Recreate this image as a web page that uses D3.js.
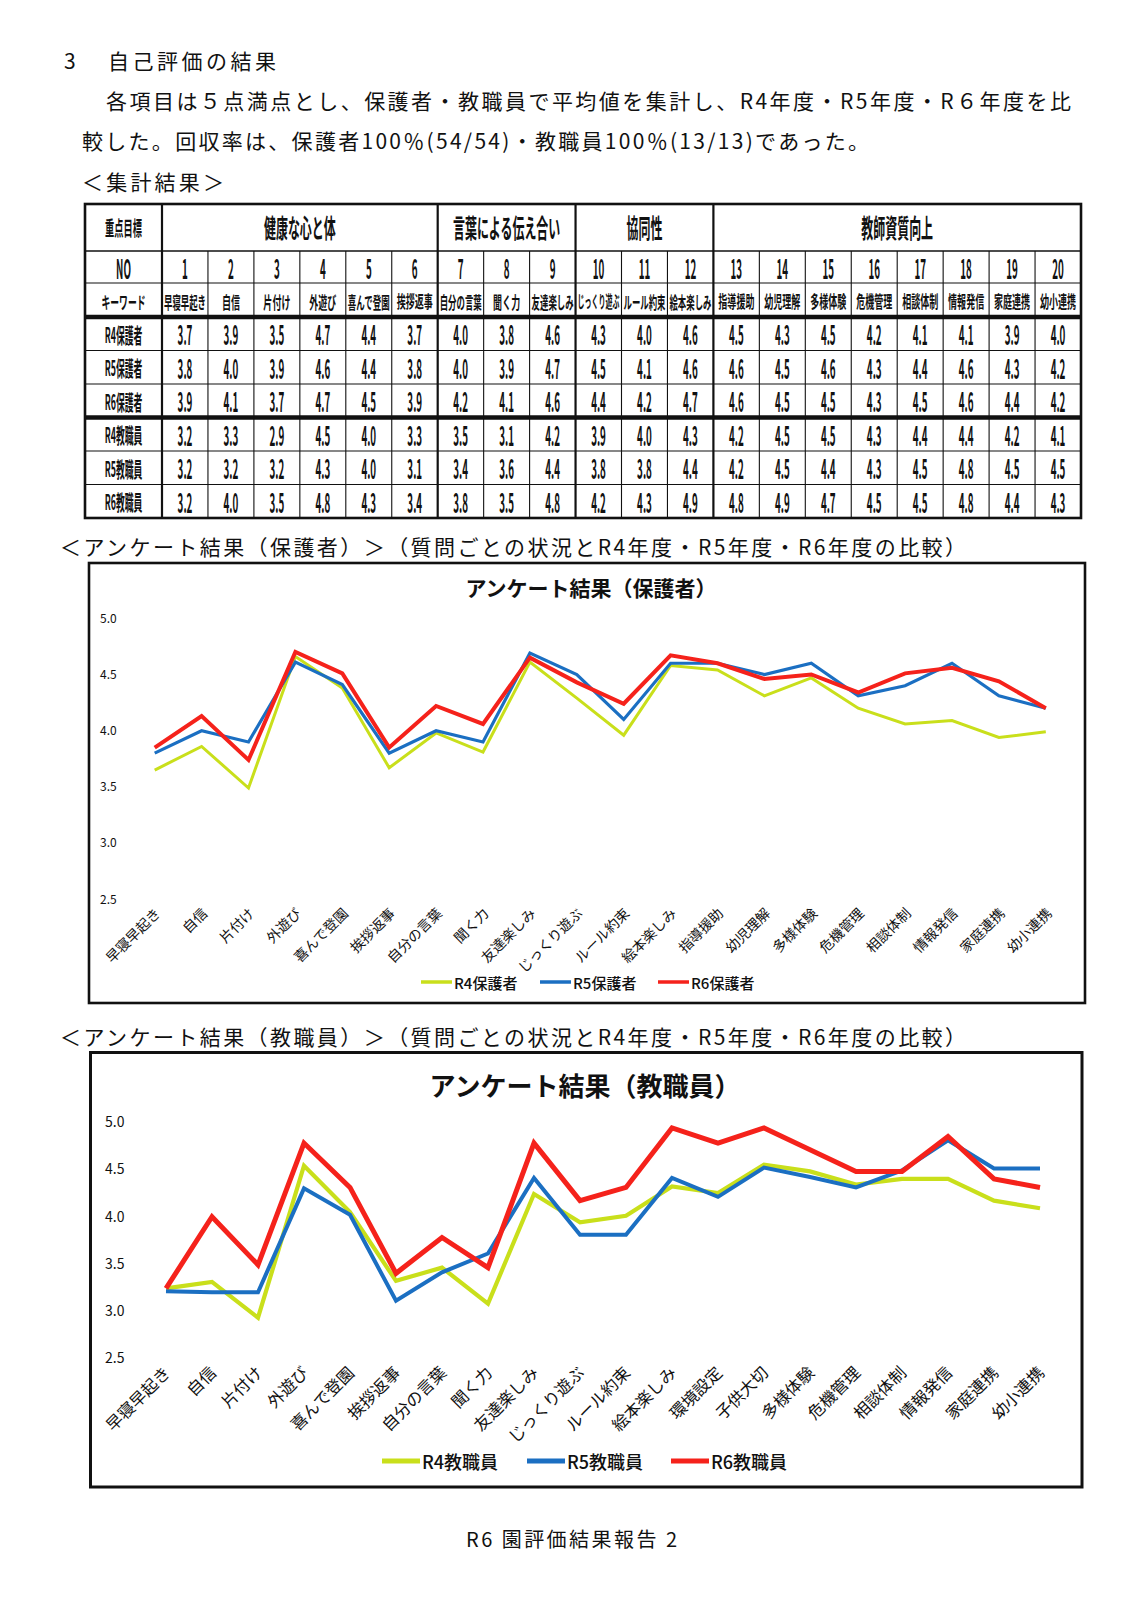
<!DOCTYPE html>
<html lang="ja">
<head>
<meta charset="utf-8">
<script src="https://cdn.jsdelivr.net/npm/d3@7"></script>
<style>
  html, body { margin: 0; padding: 0; background: #ffffff; }
  svg { display: block; }
  text { font-family: "Noto Sans CJK JP", "Noto Sans", sans-serif; fill: #111; }
</style>
</head>
<body>
<svg id="page" width="1140" height="1612"></svg>
<script>
// ---------------- DATA ----------------
const headingNumber = "3";
const headingText = "自己評価の結果";
const bodyLine1 = "各項目は５点満点とし、保護者・教職員で平均値を集計し、R4年度・R5年度・R６年度を比";
const bodyLine2 = "較した。回収率は、保護者100％(54/54)・教職員100％(13/13)であった。";
const tableCaption = "＜集計結果＞";
const parentCaption = "＜アンケート結果（保護者）＞（質問ごとの状況とR4年度・R5年度・R6年度の比較）";
const staffCaption = "＜アンケート結果（教職員）＞（質問ごとの状況とR4年度・R5年度・R6年度の比較）";
const footerText = "R6 園評価結果報告 2";

const headerLabels = ["重点目標", "NO", "キーワード"];
const goalNames = ["健康な心と体", "言葉による伝え合い", "協同性", "教師資質向上"];
const goalSpans = [6, 3, 3, 8];
const itemNumbers = ["1","2","3","4","5","6","7","8","9","10","11","12","13","14","15","16","17","18","19","20"];
const tableKeywords = ["早寝早起き","自信","片付け","外遊び","喜んで登園","挨拶返事","自分の言葉","聞く力","友達楽しみ","じっくり遊ぶ","ルール約束","絵本楽しみ","指導援助","幼児理解","多様体験","危機管理","相談体制","情報発信","家庭連携","幼小連携"];
const tableRowLabels = ["R4保護者","R5保護者","R6保護者","R4教職員","R5教職員","R6教職員"];
const tableR4Parent = [3.7,3.9,3.5,4.7,4.4,3.7,4.0,3.8,4.6,4.3,4.0,4.6,4.5,4.3,4.5,4.2,4.1,4.1,3.9,4.0];
const tableR5Parent = [3.8,4.0,3.9,4.6,4.4,3.8,4.0,3.9,4.7,4.5,4.1,4.6,4.6,4.5,4.6,4.3,4.4,4.6,4.3,4.2];
const tableR6Parent = [3.9,4.1,3.7,4.7,4.5,3.9,4.2,4.1,4.6,4.4,4.2,4.7,4.6,4.5,4.5,4.3,4.5,4.6,4.4,4.2];
const tableR4Staff  = [3.2,3.3,2.9,4.5,4.0,3.3,3.5,3.1,4.2,3.9,4.0,4.3,4.2,4.5,4.5,4.3,4.4,4.4,4.2,4.1];
const tableR5Staff  = [3.2,3.2,3.2,4.3,4.0,3.1,3.4,3.6,4.4,3.8,3.8,4.4,4.2,4.5,4.4,4.3,4.5,4.8,4.5,4.5];
const tableR6Staff  = [3.2,4.0,3.5,4.8,4.3,3.4,3.8,3.5,4.8,4.2,4.3,4.9,4.8,4.9,4.7,4.5,4.5,4.8,4.4,4.3];

const parentTitle = "アンケート結果（保護者）";
const parentCategories = ["早寝早起き","自信","片付け","外遊び","喜んで登園","挨拶返事","自分の言葉","聞く力","友達楽しみ","じっくり遊ぶ","ルール約束","絵本楽しみ","指導援助","幼児理解","多様体験","危機管理","相談体制","情報発信","家庭連携","幼小連携"];
const parentSeriesNames = ["R4保護者","R5保護者","R6保護者"];
const parentR4 = [3.65,3.86,3.49,4.66,4.38,3.67,3.98,3.81,4.61,4.29,3.96,4.58,4.54,4.31,4.47,4.20,4.06,4.09,3.94,3.99];
const parentR5 = [3.80,4.00,3.90,4.61,4.41,3.80,4.00,3.90,4.69,4.50,4.10,4.60,4.60,4.50,4.60,4.31,4.40,4.60,4.31,4.20];
const parentR6 = [3.85,4.13,3.74,4.70,4.51,3.85,4.22,4.06,4.65,4.43,4.24,4.67,4.60,4.46,4.50,4.34,4.51,4.56,4.44,4.20];

const staffTitle = "アンケート結果（教職員）";
const staffCategories = ["早寝早起き","自信","片付け","外遊び","喜んで登園","挨拶返事","自分の言葉","聞く力","友達楽しみ","じっくり遊ぶ","ルール約束","絵本楽しみ","環境設定","子供大切","多様体験","危機管理","相談体制","情報発信","家庭連携","幼小連携"];
const staffSeriesNames = ["R4教職員","R5教職員","R6教職員"];
const staffR4 = [3.24,3.31,2.93,4.54,4.05,3.32,3.46,3.08,4.24,3.94,4.01,4.32,4.25,4.55,4.48,4.34,4.40,4.40,4.17,4.09];
const staffR5 = [3.21,3.20,3.20,4.30,4.02,3.11,3.41,3.61,4.41,3.81,3.81,4.41,4.21,4.52,4.42,4.31,4.49,4.81,4.51,4.51];
const staffR6 = [3.24,4.00,3.49,4.78,4.31,3.40,3.78,3.46,4.78,4.17,4.31,4.94,4.78,4.94,4.71,4.48,4.48,4.85,4.40,4.31];

const yTickValues = [2.5, 3.0, 3.5, 4.0, 4.5, 5.0];
const seriesColors = ["#c9df1b", "#1b6fc2", "#f5221b"];

// ---------------- PAGE ----------------
const svg = d3.select("#page");
svg.append("rect").attr("width", 1140).attr("height", 1612).attr("fill", "#fff");

function bodyText(str, x, y, len, size) {
  return svg.append("text")
    .attr("x", x).attr("y", y)
    .attr("dominant-baseline", "central")
    .attr("font-size", size || 21)
    .attr("textLength", len)
    .attr("lengthAdjust", "spacing")
    .text(str);
}
svg.append("text").attr("x", 64).attr("y", 60).attr("dominant-baseline", "central")
  .attr("font-size", 21).text(headingNumber);
bodyText(headingText, 108, 60, 168);
bodyText(bodyLine1, 106, 100, 965);
bodyText(bodyLine2, 82, 140, 787);
bodyText(tableCaption, 82, 181, 142);
bodyText(parentCaption, 60, 546, 906);
bodyText(staffCaption, 60, 1036, 906);
bodyText(footerText, 466, 1538, 211, 20);

// ---------------- TABLE ----------------
const tLeft = 85, tRight = 1081, colStart = 162;
const rowEdges = [204, 251, 283, 317];
const dataTop = 317, tBottom = 518;
const tbl = svg.append("g").attr("class", "table");

const xCol = d3.scaleBand().domain(itemNumbers).range([colStart, tRight]).padding(0);
const yRow = d3.scaleBand().domain(tableRowLabels).range([dataTop, tBottom]).padding(0);

const digitFont = "'Liberation Sans', Arial, sans-serif";
const cjkFont = "'Noto Sans CJK JP', sans-serif";

// condensed bold CJK text: tall, narrow glyphs (horizontal squeeze via textLength,
// vertical stretch via scale so the natural box always fits its cell)
function condensed(g, str, cx, cy, size, sx, maxW) {
  const t = g.append("text")
    .attr("x", 0).attr("y", 0)
    .attr("text-anchor", "middle")
    .attr("dominant-baseline", "central")
    .attr("font-family", cjkFont)
    .attr("font-size", 100)
    .attr("font-weight", 700)
    .text(str);
  const w1 = t.node().getComputedTextLength() / 100;
  const f = Math.min(size, maxW / w1);
  const targetW = Math.min(w1 * size * sx, maxW);
  t.attr("font-size", f)
   .attr("textLength", targetW).attr("lengthAdjust", "spacingAndGlyphs");
  const k = size / f;
  t.attr("transform", `translate(${cx},${cy}) scale(1,${k.toFixed(3)})`);
  return t;
}

// condensed bold digits: plain positioned text squeezed by textLength
function digits(g, str, cx, cy, size, sx) {
  const t = g.append("text")
    .attr("x", cx).attr("y", cy)
    .attr("text-anchor", "middle")
    .attr("dominant-baseline", "central")
    .attr("font-family", digitFont)
    .attr("font-size", size)
    .attr("font-weight", 700)
    .text(str);
  const w = t.node().getComputedTextLength();
  t.attr("textLength", w * sx).attr("lengthAdjust", "spacingAndGlyphs");
  return t;
}

// header labels in first column
const firstCx = (tLeft + colStart) / 2;
const firstW = colStart - tLeft - 12;
condensed(tbl, headerLabels[0], firstCx, (rowEdges[0] + rowEdges[1]) / 2, 20, 0.46, firstW);
digits(tbl, headerLabels[1], firstCx, (rowEdges[1] + rowEdges[2]) / 2, 26.5, 0.37);
condensed(tbl, headerLabels[2], firstCx, (rowEdges[2] + rowEdges[3]) / 2 + 1, 17, 0.52, firstW);

// goal groups
let acc = 0;
const groupBounds = goalSpans.map((n, i) => {
  const a = itemNumbers[acc], b = itemNumbers[acc + n - 1];
  acc += n;
  return { name: goalNames[i], x0: xCol(a), x1: xCol(b) + xCol.bandwidth() };
});
groupBounds.forEach(gb => {
  condensed(tbl, gb.name, (gb.x0 + gb.x1) / 2, (rowEdges[0] + rowEdges[1]) / 2 - 1, 26, 0.46, gb.x1 - gb.x0 - 10);
});

// item numbers and keywords
const cellW = xCol.bandwidth() - 4;
itemNumbers.forEach((n, i) => {
  const cx = xCol(n) + xCol.bandwidth() / 2;
  digits(tbl, n, cx, (rowEdges[1] + rowEdges[2]) / 2, 26.5, 0.37);
  condensed(tbl, tableKeywords[i], cx, (rowEdges[2] + rowEdges[3]) / 2 + 1, 17, 0.53, cellW);
});

// data rows
const tableRows = [tableR4Parent, tableR5Parent, tableR6Parent, tableR4Staff, tableR5Staff, tableR6Staff];
const fmt = d3.format(".1f");
tableRows.forEach((vals, r) => {
  const label = tableRowLabels[r];
  const cy = yRow(label) + yRow.bandwidth() / 2;
  condensed(tbl, label, firstCx, cy, 21, 0.42, firstW);
  vals.forEach((v, i) => {
    digits(tbl, fmt(v), xCol(itemNumbers[i]) + xCol.bandwidth() / 2, cy, 26.5, 0.37);
  });
});

// table lines
function hline(y, w) {
  tbl.append("line").attr("x1", tLeft).attr("x2", tRight).attr("y1", y).attr("y2", y)
    .attr("stroke", "#111").attr("stroke-width", w);
}
function vline(x, w, y0, y1) {
  tbl.append("line").attr("x1", x).attr("x2", x).attr("y1", y0).attr("y2", y1)
    .attr("stroke", "#111").attr("stroke-width", w);
}
hline(rowEdges[1], 1.5);
hline(rowEdges[2], 1.2);
hline(rowEdges[3], 4.5);
tableRowLabels.forEach((lab, r) => {
  if (r === 0) return;
  hline(yRow(lab), r === 3 ? 4.5 : 1.2);
});
vline(colStart, 2.2, rowEdges[0], tBottom);
const groupEndIdx = new Set();
acc = 0; goalSpans.forEach(n => { acc += n; groupEndIdx.add(acc); });
itemNumbers.forEach((n, i) => {
  if (i === 0) return;
  const x = xCol(n);
  if (groupEndIdx.has(i)) vline(x, 2.2, rowEdges[0], tBottom);
  else vline(x, 1.1, rowEdges[1], tBottom);
});
tbl.append("rect").attr("x", tLeft).attr("y", rowEdges[0]).attr("width", tRight - tLeft).attr("height", tBottom - rowEdges[0])
  .attr("fill", "none").attr("stroke", "#111").attr("stroke-width", 2.6);

// ---------------- CHARTS ----------------
function drawChart(cfg) {
  const g = svg.append("g");
  g.append("rect").attr("x", cfg.box[0]).attr("y", cfg.box[1])
    .attr("width", cfg.box[2] - cfg.box[0]).attr("height", cfg.box[3] - cfg.box[1])
    .attr("fill", "#fff").attr("stroke", "#111").attr("stroke-width", cfg.boxStroke);

  g.append("text").attr("x", cfg.titleX).attr("y", cfg.titleY)
    .attr("text-anchor", "middle").attr("dominant-baseline", "central")
    .attr("font-size", cfg.titleSize).attr("font-weight", 700)
    .text(cfg.title);

  const x = d3.scalePoint().domain(cfg.categories).range(cfg.xRange);
  const y = d3.scaleLinear().domain([2.5, 5.0]).range(cfg.yRange);

  // y axis (labels only)
  const yAxis = d3.axisLeft(y).tickValues(yTickValues).tickFormat(d3.format(".1f")).tickSize(0).tickPadding(0);
  const ya = g.append("g").attr("transform", `translate(${cfg.yLabelX},0)`).call(yAxis);
  ya.select(".domain").remove();
  ya.selectAll("text")
    .attr("text-anchor", "start").attr("x", 0)
    .attr("font-family", "'Open Sans', 'DejaVu Sans', sans-serif")
    .attr("font-size", cfg.tickSize).attr("fill", "#222");

  // x axis (rotated labels)
  const xAxis = d3.axisBottom(x).tickSize(0).tickPadding(0);
  const xa = g.append("g").attr("transform", `translate(0,${cfg.xLabelY})`).call(xAxis);
  xa.select(".domain").remove();
  xa.selectAll("text")
    .attr("y", 0).attr("dy", null)
    .attr("text-anchor", "end")
    .attr("dominant-baseline", "central")
    .attr("font-family", cjkFont)
    .attr("font-size", cfg.labelSize).attr("fill", "#111")
    .attr("transform", `translate(${cfg.labelDx},0) rotate(-45)`);

  const line = d3.line().x((d, i) => x(cfg.categories[i])).y(d => y(d));
  cfg.series.forEach((s, k) => {
    g.append("path").datum(s).attr("d", line)
      .attr("fill", "none").attr("stroke", seriesColors[k])
      .attr("stroke-width", cfg.lineWidths[k])
      .attr("stroke-linejoin", "miter").attr("stroke-linecap", "butt");
  });

  // legend
  cfg.seriesNames.forEach((name, k) => {
    const lx = cfg.legendX[k];
    g.append("line").attr("x1", lx).attr("x2", lx + cfg.legendLine).attr("y1", cfg.legendY).attr("y2", cfg.legendY)
      .attr("stroke", seriesColors[k]).attr("stroke-width", cfg.legendStroke);
    g.append("text").attr("x", lx + cfg.legendLine + 2).attr("y", cfg.legendY)
      .attr("dominant-baseline", "central").attr("font-size", cfg.legendSize)
      .attr("font-weight", 500).text(name);
  });
}

drawChart({
  box: [89, 563, 1085, 1003], boxStroke: 2.6,
  title: parentTitle, titleX: 591, titleY: 587, titleSize: 21,
  categories: parentCategories,
  series: [parentR4, parentR5, parentR6], seriesNames: parentSeriesNames,
  xRange: [154.7, 1045.8], yRange: [899.3, 618.3],
  yLabelX: 100, tickSize: 12,
  xLabelY: 910, labelDx: 2, labelSize: 14,
  lineWidths: [3, 3.2, 4],
  legendX: [421, 540, 658], legendY: 982, legendLine: 31, legendStroke: 3.5, legendSize: 15
});

drawChart({
  box: [90.5, 1052.5, 1082, 1487], boxStroke: 3,
  title: staffTitle, titleX: 585, titleY: 1084, titleSize: 26,
  categories: staffCategories,
  series: [staffR4, staffR5, staffR6], seriesNames: staffSeriesNames,
  xRange: [166, 1040], yRange: [1358.3, 1122.3],
  yLabelX: 105, tickSize: 14,
  xLabelY: 1369, labelDx: 0, labelSize: 16.5,
  lineWidths: [4.2, 4, 5],
  legendX: [382, 527, 671], legendY: 1461, legendLine: 38, legendStroke: 5, legendSize: 18
});
</script>
</body>
</html>
